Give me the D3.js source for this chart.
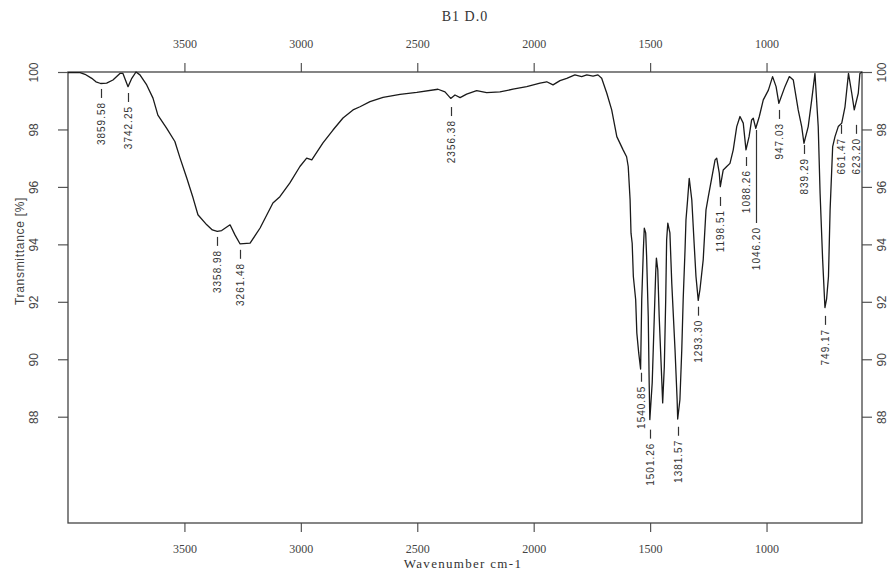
<!DOCTYPE html>
<html>
<head>
<meta charset="utf-8">
<script src="https://cdn.jsdelivr.net/npm/d3@7"></script>
<style>
body { margin: 0; background: #fff; }
</style>
</head>
<body>
<svg id="chart" width="896" height="572"></svg>
<script>
var TITLE = 'B1 D.0';
var X_TITLE = 'Wavenumber cm-1';
var Y_TITLE = 'Transmittance [%]';

var x_ticks = [3500, 3000, 2500, 2000, 1500, 1000];
var y_ticks = [100, 98, 96, 94, 92, 90, 88];

// spectrum
var wavenumber = [4000, 3948, 3927, 3898, 3880, 3859.58, 3834, 3807, 3777, 3764, 3742.25, 3726, 3708, 3691, 3662, 3635, 3614, 3576, 3541, 3519,
	3490, 3463, 3442, 3404, 3380, 3358.98, 3340, 3304, 3283, 3261.48, 3218, 3175, 3120, 3090, 3047, 3004, 2975, 2953, 2905, 2862,
	2819, 2776, 2746, 2703, 2647, 2574, 2502, 2411, 2381, 2356.38, 2338, 2316, 2288, 2245, 2202, 2145, 2089, 2030, 1973, 1944,
	1917, 1887, 1858, 1823, 1794, 1772, 1745, 1724, 1708, 1686, 1665, 1643, 1616, 1601, 1594, 1586, 1582, 1577, 1572, 1562,
	1557, 1549, 1540.85, 1536, 1529, 1525, 1519, 1515, 1508, 1504, 1501.26, 1491, 1482, 1476, 1473, 1467, 1461, 1450, 1446, 1439,
	1433, 1429, 1424, 1415, 1407, 1393, 1384, 1381.57, 1372, 1364, 1358, 1350, 1346, 1339, 1332, 1321, 1311, 1303, 1293.30, 1286,
	1272, 1260, 1250, 1221, 1214, 1203, 1198.51, 1186, 1171, 1157, 1143, 1128, 1114, 1100, 1088.26, 1075, 1064, 1057, 1046.20, 1031,
	1014, 992, 974, 959, 947.03, 921, 902, 885, 864, 849, 839.29, 821, 806, 792, 778, 770, 759, 749.17, 742, 734,
	727, 716, 706, 692, 677, 663, 648, 634, 623.20, 606, 599, 590];
var transmittance = [99.98, 99.98, 99.92, 99.78, 99.66, 99.6, 99.61, 99.72, 99.95, 99.95, 99.49, 99.78, 100, 99.9, 99.55, 99.09, 98.5, 98.04, 97.58, 97.01,
	96.31, 95.62, 95.03, 94.68, 94.5, 94.45, 94.48, 94.68, 94.33, 94.02, 94.04, 94.57, 95.44, 95.66, 96.14, 96.71, 97.0, 96.94, 97.53, 97.98,
	98.4, 98.68, 98.79, 98.97, 99.12, 99.22, 99.29, 99.4, 99.31, 99.08, 99.2, 99.11, 99.23, 99.35, 99.28, 99.31, 99.4, 99.49, 99.61, 99.66,
	99.55, 99.7, 99.78, 99.9, 99.84, 99.9, 99.86, 99.9, 99.78, 99.26, 98.68, 97.75, 97.29, 97.05, 96.71, 95.55, 94.39, 94.04, 92.88, 92.07,
	90.91, 90.22, 89.66, 92.07, 93.81, 94.56, 94.4, 93.58, 91.49, 89.18, 87.9, 89.18, 91.49, 93.01, 93.52, 93.11, 91.49, 89.29, 88.48, 89.75,
	92.07, 94.16, 94.74, 94.4, 92.65, 90.33, 88.59, 87.92, 88.59, 90.33, 92.07, 93.81, 94.85, 95.55, 96.3, 95.55, 94.04, 92.88, 92.05, 92.42,
	93.46, 95.2, 95.66, 96.94, 97.0, 96.48, 96.01, 96.59, 96.71, 96.82, 97.29, 98.1, 98.45, 98.22, 97.29, 97.75, 98.33, 98.39, 98.04, 98.45,
	99.03, 99.37, 99.84, 99.49, 98.91, 99.49, 99.84, 99.72, 98.68, 98.1, 97.52, 98.1, 99.03, 99.95, 98.1, 95.78, 93.46, 91.8, 92.1, 92.88,
	95.2, 97.4, 97.75, 98.1, 98.22, 98.79, 99.95, 99.26, 98.68, 99.26, 99.95, 100];

// peak picks: wavenumber, label, transmittance where the label stem starts
var peak_wn = [3859.58, 3742.25, 3358.98, 3261.48, 2356.38, 1540.85, 1501.26, 1381.57, 1293.30, 1198.51, 1088.26, 1046.20, 947.03, 839.29, 749.17, 661.47, 623.20];
var peak_text = ['3859.58', '3742.25', '3358.98', '3261.48', '2356.38', '1540.85', '1501.26', '1381.57', '1293.30', '1198.51', '1088.26', '1046.20', '947.03', '839.29', '749.17', '661.47', '623.20'];
var peak_t = [99.41, 99.27, 94.26, 93.81, 98.78, 89.53, 87.55, 87.65, 91.83, 95.65, 97.04, 97.98, 98.68, 97.46, 91.51, 98.16, 98.16];

var svg = d3.select('#chart');
var LEFT = 68, RIGHT = 862, TOP = 72, BOTTOM = 523;
var STEM = 9;

// the two last picks sit close together; pull their labels apart a little
var label_nudge = {'661.47' : -4, '623.20' : 2};
var long_stem = {'1046.20' : 93};

var x = d3.scaleLinear().domain([4000, 590]).range([LEFT, RIGHT]);
var y = d3.scaleLinear().domain([84.3, 100]).range([BOTTOM, TOP]);

var SERIF = '"Liberation Serif", "DejaVu Serif", serif';
var NARROW = '"Liberation Sans Narrow", "Liberation Sans", Arial, sans-serif';
var SANS = '"Liberation Sans", Arial, sans-serif';

function style_axis(g)
{
	g.select('.domain').remove();
	g.selectAll('.tick line').attr('stroke', '#555').attr('stroke-width', 1.2);
	g.selectAll('.tick text').attr('fill', '#444');
}

// x axes, top and bottom
svg.append('g')
	.attr('transform', 'translate(0,' + TOP + ')')
	.call(d3.axisTop(x).tickValues(x_ticks).tickSize(9).tickPadding(15).tickFormat(d3.format('d')))
	.call(style_axis)
	.selectAll('text').style('font-family', SERIF).style('font-size', '12px');

svg.append('g')
	.attr('transform', 'translate(0,' + BOTTOM + ')')
	.call(d3.axisBottom(x).tickValues(x_ticks).tickSize(9).tickPadding(12).tickFormat(d3.format('d')))
	.call(style_axis)
	.selectAll('text').style('font-family', SERIF).style('font-size', '12px');

// y axes, left and right, labels turned on their side
svg.append('g')
	.attr('transform', 'translate(' + LEFT + ',0)')
	.call(d3.axisLeft(y).tickValues(y_ticks).tickSize(10))
	.call(style_axis)
	.selectAll('text')
		.attr('x', 0).attr('dy', '0.36em')
		.attr('text-anchor', 'middle')
		.attr('transform', 'translate(-34,0) rotate(-90)')
		.style('font-family', NARROW).style('font-size', '12px');

svg.append('g')
	.attr('transform', 'translate(' + RIGHT + ',0)')
	.call(d3.axisRight(y).tickValues(y_ticks).tickSize(10))
	.call(style_axis)
	.selectAll('text')
		.attr('x', 0).attr('dy', '0.36em')
		.attr('text-anchor', 'middle')
		.attr('transform', 'translate(20,0) rotate(-90)')
		.style('font-family', NARROW).style('font-size', '12px');

svg.append('rect')
	.attr('x', LEFT).attr('y', TOP)
	.attr('width', RIGHT - LEFT).attr('height', BOTTOM - TOP)
	.attr('fill', 'none').attr('stroke', '#444').attr('stroke-width', 1.3);

// titles
svg.append('text')
	.attr('x', 465).attr('y', 21)
	.attr('text-anchor', 'middle')
	.attr('fill', '#333')
	.style('font-family', SERIF).style('font-size', '14px').style('letter-spacing', '1px')
	.text(TITLE);

svg.append('text')
	.attr('x', 463).attr('y', 568)
	.attr('text-anchor', 'middle')
	.attr('fill', '#333')
	.style('font-family', SERIF).style('font-size', '13px').style('letter-spacing', '1.3px')
	.text(X_TITLE);

svg.append('text')
	.attr('transform', 'translate(20,251) rotate(-90)')
	.attr('text-anchor', 'middle')
	.attr('dy', '0.36em')
	.attr('fill', '#444')
	.style('font-family', SANS).style('font-size', '12px').style('letter-spacing', '0.7px')
	.text(Y_TITLE);

// spectrum
var spectrum = wavenumber.map(function(d, i) { return {x : d, y : transmittance[i]}; });

var line = d3.line()
	.x(function(d) { return x(d.x); })
	.y(function(d) { return y(d.y); });

svg.append('path')
	.datum(spectrum)
	.attr('d', line)
	.attr('fill', 'none')
	.attr('stroke', '#1a1a1a')
	.attr('stroke-width', 1.3)
	.attr('stroke-linejoin', 'round');

// peak picks
var peaks = peak_wn.map(function(d, i) {
	var name = peak_text[i];
	return {
		px : Math.round(x(d) + (label_nudge[name] || 0)) + 0.5,
		t : peak_t[i],
		label : name,
		stem : long_stem[name] || STEM
	};
});

var pick = svg.append('g').attr('id', 'peaks');

pick.selectAll('line')
	.data(peaks)
	.enter().append('line')
		.attr('x1', function(d) { return d.px; })
		.attr('x2', function(d) { return d.px; })
		.attr('y1', function(d) { return y(d.t); })
		.attr('y2', function(d) { return y(d.t) + d.stem; })
		.attr('stroke', '#333')
		.attr('stroke-width', 1.2);

pick.selectAll('text')
	.data(peaks)
	.enter().append('text')
		.attr('transform', function(d) {
			return 'translate(' + d.px + ',' + (y(d.t) + d.stem + 4) + ') rotate(-90)';
		})
		.attr('text-anchor', 'end')
		.attr('dy', '0.36em')
		.attr('fill', '#333')
		.style('font-family', NARROW).style('font-size', '10px').style('letter-spacing', '1px')
		.text(function(d) { return d.label; });
</script>
</body>
</html>
